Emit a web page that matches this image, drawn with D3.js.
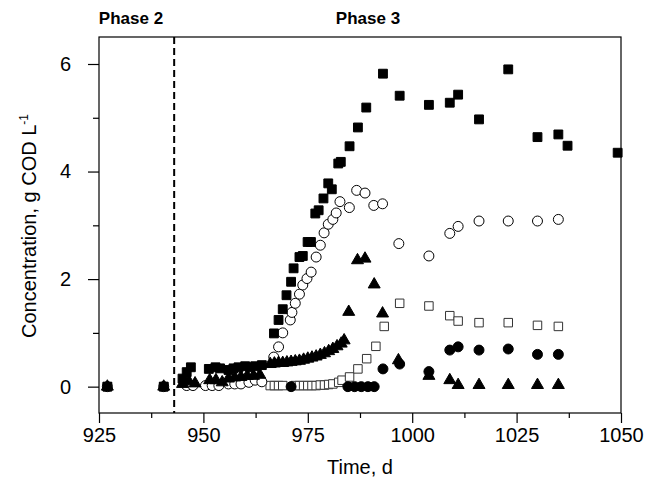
<!DOCTYPE html>
<html><head><meta charset="utf-8">
<script src="https://cdn.jsdelivr.net/npm/d3@7"></script>
<style>body{margin:0;background:#fff}</style>
</head><body>
<svg id="c" width="647" height="489"></svg>
<script>
// ---------- DATA ----------
const xTicks = [925, 950, 975, 1000, 1025, 1050];
const yTicks = [0, 2, 4, 6];
const phaseLine = 943;
const phaseLabels = ["Phase 2", "Phase 3"];

// filled squares
const sqFilledDay = [927,940.5,945,946,947,951.3,952.9,954,956,957.2,958.4,960,961.2,962.4,964,966.9,968,969,969.9,971,971.6,973,973.8,974.95,975.75,976.8,977.6,978.75,979.9,980.75,982.3,982.9,985,987,989,993,997,1004,1009,1011,1016,1023,1030,1035,1037.2,1049.2];
const sqFilledVal = [0,0,0.15,0.27,0.36,0.33,0.36,0.34,0.31,0.34,0.36,0.38,0.36,0.38,0.4,0.99,1.24,1.44,1.70,1.95,2.20,2.41,2.43,2.69,2.69,3.22,3.28,3.50,3.78,3.67,4.15,4.18,4.47,4.82,5.19,5.82,5.41,5.24,5.28,5.43,4.97,5.90,4.64,4.69,4.48,4.35];

// open circles
const circOpenDay = [927,940.5,946,947.5,950.5,952.1,953.7,956,957.5,959,960.9,962.4,964,966.85,968,969,970.8,971.2,972,973,973.8,974.8,975.8,977,978,978.9,979.9,981,981.8,982.7,984.95,986.7,988.7,990.8,992.9,996.8,1004,1009,1011,1016,1023,1030,1035];
const circOpenVal = [0,0,0.02,0.02,0.02,0.02,0.02,0.05,0.05,0.05,0.08,0.12,0.09,0.55,0.74,1.0,1.24,1.38,1.55,1.72,1.89,2.01,2.13,2.41,2.63,2.86,3.02,3.11,3.23,3.44,3.33,3.65,3.60,3.37,3.40,2.66,2.43,2.85,2.98,3.08,3.08,3.08,3.11];

// filled triangles
const triDay = [927,940.5,945,946.5,948,951.5,953,954.5,956,957.5,959,960.5,962,963.5,966,967,968,969,970,971,972,973,974,975,976,977,978,979,980,981,982,983,983.7,984.8,986.9,988.7,990.9,992.9,996.7,1004,1009,1011,1016,1023,1030,1035];
const triVal = [0,0,0.05,0.1,0.06,0.12,0.12,0.08,0.15,0.17,0.18,0.2,0.2,0.22,0.42,0.43,0.44,0.44,0.45,0.46,0.47,0.48,0.50,0.52,0.54,0.56,0.59,0.62,0.66,0.70,0.75,0.80,0.86,1.39,2.35,2.38,1.90,1.36,0.49,0.20,0.12,0.03,0.03,0.03,0.03,0.03];

// open squares
const sqOpenDay = [927,940.5,966,967,968,969,972,973,974,975,976,977,978,979,980,981,982.4,983.2,985,987,989.1,991.3,993.3,997,1004,1009,1011,1016,1023,1030,1035];
const sqOpenVal = [0,0,0.02,0.02,0.02,0.02,0.02,0.02,0.02,0.02,0.02,0.02,0.03,0.03,0.04,0.05,0.08,0.12,0.18,0.33,0.52,0.75,1.12,1.55,1.50,1.32,1.22,1.19,1.19,1.14,1.12];

// filled circles
const circFilledDay = [971,984.6,986.2,987.8,989.4,990.9,993,997,1004,1009,1011,1016,1023,1030,1035];
const circFilledVal = [0,0,0,0,0,0,0.33,0.42,0.28,0.68,0.74,0.68,0.70,0.60,0.60];

// ---------- CHART ----------
const svg = d3.select("#c");
const L = 99, R = 621, T = 37, B = 413;
const x = d3.scaleLinear().domain([925, 1050]).range([L, R]);
const y = d3.scaleLinear().domain([-0.49, 6.502]).range([B, T]);
const font = "Liberation Sans, Arial, Helvetica, sans-serif";

// frame
svg.append("rect").attr("x", L).attr("y", T).attr("width", R - L).attr("height", B - T)
  .attr("fill", "none").attr("stroke", "#000").attr("stroke-width", 1.2);

// x axis
const xMinor = d3.range(937.5, 1050, 25);
const gx = svg.append("g").attr("transform", `translate(0,${B})`);
gx.call(d3.axisBottom(x).tickValues(xTicks).tickSize(10).tickPadding(5).tickFormat(d3.format("d")));
gx.append("g").call(d3.axisBottom(x).tickValues(xMinor).tickSize(5).tickFormat(""));
gx.selectAll(".domain").remove();
gx.selectAll("text").attr("font-family", font).attr("font-size", 20).attr("fill", "#000");

// y axis
const yMinor = [1, 3, 5];
const gy = svg.append("g").attr("transform", `translate(${L},0)`);
gy.call(d3.axisLeft(y).tickValues(yTicks).tickSize(11).tickPadding(17).tickFormat(d3.format("d")));
gy.append("g").call(d3.axisLeft(y).tickValues(yMinor).tickSize(6).tickFormat(""));
gy.selectAll(".domain").remove();
gy.selectAll("text").attr("font-family", font).attr("font-size", 20).attr("fill", "#000");
svg.selectAll(".tick line").attr("stroke", "#000").attr("stroke-width", 1.2);

// dashed phase line
svg.append("line").attr("x1", x(phaseLine)).attr("x2", x(phaseLine)).attr("y1", T).attr("y2", B)
  .attr("stroke", "#000").attr("stroke-width", 2).attr("stroke-dasharray", "7,4");

// phase labels
svg.append("text").attr("x", 131).attr("y", 24).attr("text-anchor", "middle")
  .attr("font-family", font).attr("font-weight", "bold").attr("font-size", 17).text(phaseLabels[0]);
svg.append("text").attr("x", 368).attr("y", 24).attr("text-anchor", "middle")
  .attr("font-family", font).attr("font-weight", "bold").attr("font-size", 17).text(phaseLabels[1]);

// axis titles
svg.append("text").attr("x", 360).attr("y", 474).attr("text-anchor", "middle")
  .attr("font-family", font).attr("font-size", 20).text("Time, d");
const yt = svg.append("text").attr("transform", "translate(36,226) rotate(-90)").attr("text-anchor", "middle")
  .attr("font-family", font).attr("font-size", 20);
yt.append("tspan").text("Concentration, g COD L");
yt.append("tspan").attr("dy", -8).attr("font-size", 12).text("-1");

// markers
const zip = (a, b) => a.map((d, i) => ({ t: d, v: b[i] }));
const plot = svg.append("g");
function draw(data, type, filled, stroke, size) {
  const sym = d3.symbol().type(type).size(size);
  plot.append("g").selectAll("path").data(data).join("path")
    .attr("transform", d => `translate(${x(d.t)},${y(d.v)})`)
    .attr("d", sym)
    .attr("fill", filled ? "#000" : "#fff")
    .attr("stroke", stroke)
    .attr("stroke-width", 1);
}
draw(zip(sqOpenDay, sqOpenVal), d3.symbolSquare, false, "#333", 72);
draw(zip(circOpenDay, circOpenVal), d3.symbolCircle, false, "#000", 78);
draw(zip(sqFilledDay, sqFilledVal), d3.symbolSquare, true, "#000", 78);
draw(zip(circFilledDay, circFilledVal), d3.symbolCircle, true, "#000", 78);
draw(zip(triDay, triVal), d3.symbolTriangle, true, "#000", 62);
</script>
</body></html>
